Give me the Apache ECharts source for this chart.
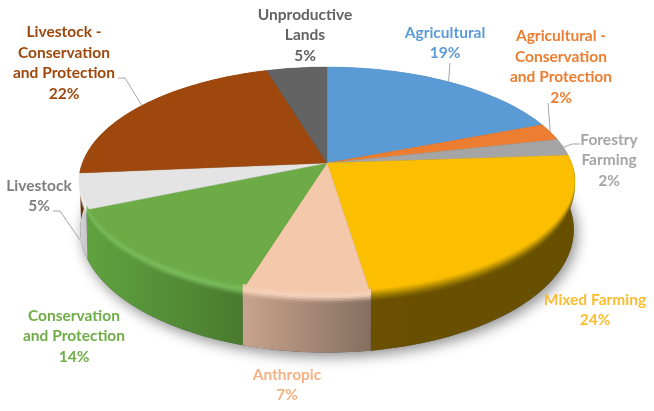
<!DOCTYPE html>
<html>
  <head>
    <meta charset="UTF-8">
    <script src="https://cdn.jsdelivr.net/npm/echarts@6/dist/echarts.min.js"></script>
    <title>Land use</title>
    <style>html,body{margin:0;padding:0;background:#fff}</style>
  </head>
  <body>
    <div id="main" style="width:654px;height:411px;"></div>
  </body>

  <script>
// data, clockwise from 12 o'clock
var categories = ['Agricultural', 'Agricultural -\nConservation\nand Protection', 'Forestry\nFarming', 'Mixed Farming', 'Anthropic', 'Conservation\nand Protection', 'Livestock', 'Livestock -\nConservation\nand Protection', 'Unproductive\nLands'];
var values = [19.1, 2.4, 2.4, 23.7, 7.1, 13.9, 5.0, 21.8, 4.6];

// styles
var topColors = ['#5b9bd5', '#ed7d31', '#a5a5a5', '#fcbe00', '#f4c9ab', '#6dab47', '#e4e4e4', '#9e480e', '#636363'];
var sideLeft = ['#3a6a96', '#a55520', '#737373', '#6a5000', '#c8a48d', '#5fa340', '#d8d8d8', '#6e320a', '#454545'];
var sideRight = ['#3a6a96', '#a55520', '#737373', '#665000', '#866e60', '#4a7a2f', '#c4c4c4', '#6e320a', '#454545'];
var bevelColors = ['#5b9bd5', '#ed7d31', '#a5a5a5', '#a88400', '#f5d2bb', '#7abc5b', '#ffffff', '#9e480e', '#636363'];
var labelColors = ['#5b9bd5', '#ed7d31', '#a5a5a5', '#fbbc2f', '#f4b183', '#70ad47', '#7f7f7f', '#9e480e', '#636363'];

// label centre and leader start for each slice (null = no leader)
var labelAt = [[445, 43], [561, 67], [609, 160], [595, 310], [287, 385], [74, 336], [39, 196], [64, 63], [305, 35]];
var leaderFrom = [[[450, 63]], [[548, 103]], [[580, 144], [572, 144]], null, null, null, [[53, 211], [60, 211]], [[118, 78], [125, 78]], null];
var leaderOnSide = [false, false, false, false, false, false, true, false, false];

// perspective disc
var cx = 327, cy = 163, A = 244.6, B = 111.8, P = 0.165, H = 46.5;

function proj(deg, drop, sx) {
  var t = deg * Math.PI / 180;
  var w = 1 + P * Math.cos(t);
  return [cx + (sx || 1) * A * Math.sin(t) / w, cy + (-B * Math.cos(t) + drop) / w];
}
function arc(a0, a1, drop, sx) {
  var pts = [], n = Math.max(2, Math.ceil((a1 - a0) / 1.5));
  for (var i = 0; i <= n; i++) pts.push(proj(a0 + (a1 - a0) * i / n, drop, sx));
  return pts;
}
function hex(c) { return [parseInt(c.slice(1, 3), 16), parseInt(c.slice(3, 5), 16), parseInt(c.slice(5, 7), 16)]; }
function mix(c0, c1, t) {
  var a = hex(c0), b = hex(c1);
  return 'rgb(' + [0, 1, 2].map(function (i) { return Math.round(a[i] + (b[i] - a[i]) * t); }).join(',') + ')';
}

var total = values.reduce(function (s, v) { return s + v; }, 0);
var startAngle = [], run = 0;
values.forEach(function (v) { startAngle.push(run / total * 360); run += v; });
var rows = values.map(function (v, i) { return [v, startAngle[i]]; });
function span(api) {
  var a0 = api.value(1);
  return [a0, a0 + api.value(0) / total * 360];
}

function renderBase() {
  return {
    type: 'polygon',
    shape: { points: arc(0, 360, H, 0.995) },
    style: { fill: '#555', shadowColor: 'rgba(0,0,0,0.45)', shadowBlur: 14, shadowOffsetX: 3, shadowOffsetY: 4 }
  };
}

function renderSide(params, api) {
  var i = params.dataIndex, s = span(api);
  var grad = new echarts.graphic.LinearGradient(0, 0, 1, 0, [
    { offset: 0, color: sideLeft[i] }, { offset: 1, color: sideRight[i] }
  ]);
  return {
    type: 'polygon',
    shape: { points: arc(s[0], s[1], 0).concat(arc(s[0], s[1], H, 0.995).reverse()) },
    style: { fill: grad }
  };
}

function renderTop(params, api) {
  var i = params.dataIndex, s = span(api);
  return {
    type: 'polygon',
    shape: { points: [[cx, cy]].concat(arc(s[0], s[1], 0)) },
    style: { fill: topColors[i], stroke: topColors[i], lineWidth: 0.4 }
  };
}

// soft rounded edge where the top meets the side, front half only
function renderBevel(params, api) {
  var i = params.dataIndex, s = span(api);
  var a0 = Math.max(s[0], 92), a1 = Math.min(s[1], 268), kids = [];
  if (a1 <= a0) return { type: 'group', children: [] };
  var steps = 8, reach = 5;
  function edge(a, b, f) {
    var pts = [], n = Math.max(2, Math.ceil((b - a) / 1.5));
    for (var k = 0; k <= n; k++) {
      var d = a + (b - a) * k / n;
      var taper = Math.min(1, Math.sin((d - 90) * Math.PI / 180) * 2.2);
      pts.push(proj(d, f * reach * taper));
    }
    return pts;
  }
  for (var k = 0; k < steps; k++) {
    var f0 = -1 + 2 * k / steps, f1 = f0 + 2 / steps, mid = (f0 + f1) / 2;
    var cl = mid < 0 ? mix(topColors[i], bevelColors[i], mid + 1) : mix(bevelColors[i], sideLeft[i], mid);
    var cr = mid < 0 ? mix(topColors[i], bevelColors[i], mid + 1) : mix(bevelColors[i], sideRight[i], mid);
    kids.push({
      type: 'polygon',
      shape: { points: edge(a0, a1, f0).concat(edge(a0, a1, f1 + 0.05).reverse()) },
      style: { fill: new echarts.graphic.LinearGradient(0, 0, 1, 0, [{ offset: 0, color: cl }, { offset: 1, color: cr }]) }
    });
  }
  return { type: 'group', children: kids };
}

function renderLabel(params, api) {
  var i = params.dataIndex, s = span(api), kids = [];
  if (leaderFrom[i]) {
    var mid = (s[0] + s[1]) / 2;
    kids.push({
      type: 'polyline',
      shape: { points: leaderFrom[i].concat([proj(mid, leaderOnSide[i] ? H : 0)]) },
      style: { stroke: '#a6a6a6', lineWidth: 1, fill: 'none' }
    });
  }
  kids.push({
    type: 'text',
    style: {
      text: categories[i] + '\n' + Math.round(api.value(0)) + '%',
      x: labelAt[i][0], y: labelAt[i][1],
      align: 'center', verticalAlign: 'middle',
      font: 'bold 15.5px Lato', lineHeight: 20.5,
      fill: labelColors[i]
    }
  });
  return { type: 'group', children: kids };
}

var chart = echarts.init(document.getElementById('main'), null, { renderer: 'canvas' });

function layer(fn, data, z) {
  return { type: 'custom', coordinateSystem: 'none', renderItem: fn, data: data, z: z, silent: true, animation: false };
}

chart.setOption({
  backgroundColor: '#fff',
  animation: false,
  series: [
    layer(renderBase, [[0]], 1),
    layer(renderSide, rows, 2),
    layer(renderTop, rows, 3),
    layer(renderBevel, rows, 4),
    layer(renderLabel, rows, 5)
  ]
});
  </script>
</html>
